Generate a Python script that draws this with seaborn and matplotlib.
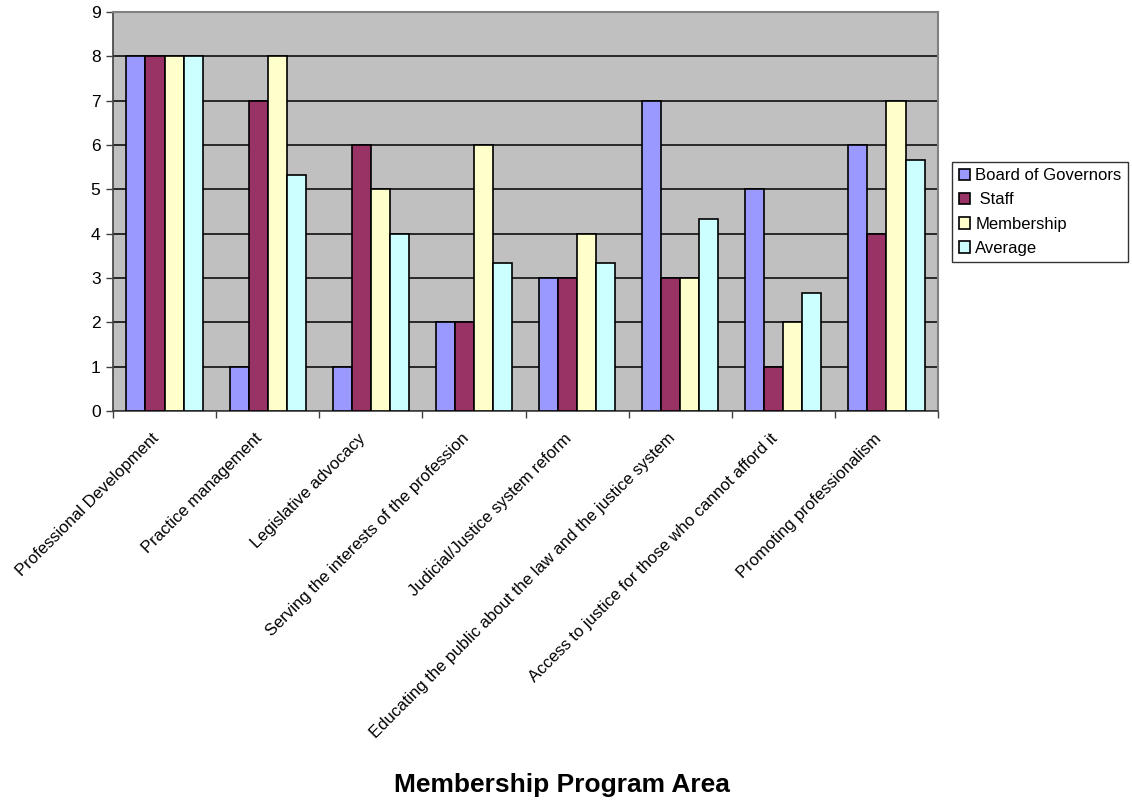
import matplotlib
matplotlib.use("Agg")
import matplotlib.pyplot as plt
import matplotlib.transforms as mtransforms
import seaborn as sns
import pandas as pd
import numpy as np

categories = [
    "Professional Development",
    "Practice management",
    "Legislative advocacy",
    "Serving the interests of the profession",
    "Judicial/Justice system reform",
    "Educating the public about the law and the justice system",
    "Access to justice for those who cannot afford it",
    "Promoting professionalism",
]
series_names = ["Board of Governors", " Staff", "Membership", "Average"]
board = [8, 1, 1, 2, 3, 7, 5, 6]
staff = [8, 7, 6, 2, 3, 3, 1, 4]
membership = [8, 8, 5, 6, 4, 3, 2, 7]
average = [8, 5.33, 4, 3.33, 3.33, 4.33, 2.67, 5.67]
colors = ["#9999FF", "#993366", "#FFFFCC", "#CCFFFF"]
yticks = list(range(0, 10))

rows = []
for name, vals in zip(series_names, [board, staff, membership, average]):
    for c, v in zip(categories, vals):
        rows.append({"Category": c, "Series": name, "Value": v})
df = pd.DataFrame(rows)

sns.set_style("white")
plt.rcParams["font.family"] = ["Liberation Sans", "DejaVu Sans"]
plt.rcParams["text.color"] = "black"
plt.rcParams["xtick.color"] = "black"
plt.rcParams["ytick.color"] = "black"

fig = plt.figure(figsize=(11.32, 8.02), dpi=100)
ax = fig.add_axes([113 / 1132, 1 - 411 / 802, (938 - 113) / 1132, (411 - 12) / 802])
ax.set_facecolor("#C0C0C0")

sns.barplot(data=df, x="Category", y="Value", hue="Series", order=categories,
            hue_order=series_names, palette=colors, width=0.74, gap=0,
            edgecolor="black", linewidth=1.2, ax=ax, saturation=1, zorder=3)

ax.set_ylim(0, 9)
ax.set_xlim(-0.5, len(categories) - 0.5)
ax.set_yticks(yticks)
ax.set_yticklabels([str(t) for t in yticks], fontsize=12.5, color="black")
ax.yaxis.grid(True, color="black", linewidth=1.1, zorder=1)
ax.set_axisbelow(True)
ax.tick_params(axis="y", direction="out", length=5, width=1, color="#404040", left=True, pad=4)

ax.set_xticks(range(len(categories)))
ax.set_xticklabels(categories, rotation=45, ha="right", va="top",
                   rotation_mode="anchor", fontsize=12, color="black")
ax.tick_params(axis="x", which="major", length=0, pad=12)
ax.set_xticks(np.arange(-0.5, len(categories), 1), minor=True)
ax.tick_params(axis="x", which="minor", direction="out", length=5, width=1,
               color="#404040", bottom=True)
offset = mtransforms.ScaledTranslation(-13 / 100, -3 / 100, fig.dpi_scale_trans)
for lbl in ax.get_xticklabels():
    lbl.set_transform(lbl.get_transform() + offset)

for side in ["top", "right"]:
    ax.spines[side].set_visible(True)
    ax.spines[side].set_color("#808080")
    ax.spines[side].set_linewidth(1.5)
for side in ["left", "bottom"]:
    ax.spines[side].set_color("#404040")
    ax.spines[side].set_linewidth(1.2)

ax.set_ylabel("")
ax.set_xlabel("")
fig.text(562 / 1132, 1 - 785 / 802, "Membership Program Area",
         ha="center", va="center", fontsize=19, fontweight="bold", color="black")

handles, labels = ax.get_legend_handles_labels()
leg = ax.legend(handles, labels, loc="center left", bbox_to_anchor=(952 / 1132, 1 - 212 / 802),
                bbox_transform=fig.transFigure, fontsize=12, frameon=True, fancybox=False,
                edgecolor="black", handlelength=0.7, handleheight=0.7, handletextpad=0.3,
                labelspacing=0.55, borderpad=0.4, borderaxespad=0)
leg.get_frame().set_linewidth(1.0)
for t in leg.get_texts():
    t.set_color("black")

fig.savefig("out.png", dpi=100, facecolor="white")
